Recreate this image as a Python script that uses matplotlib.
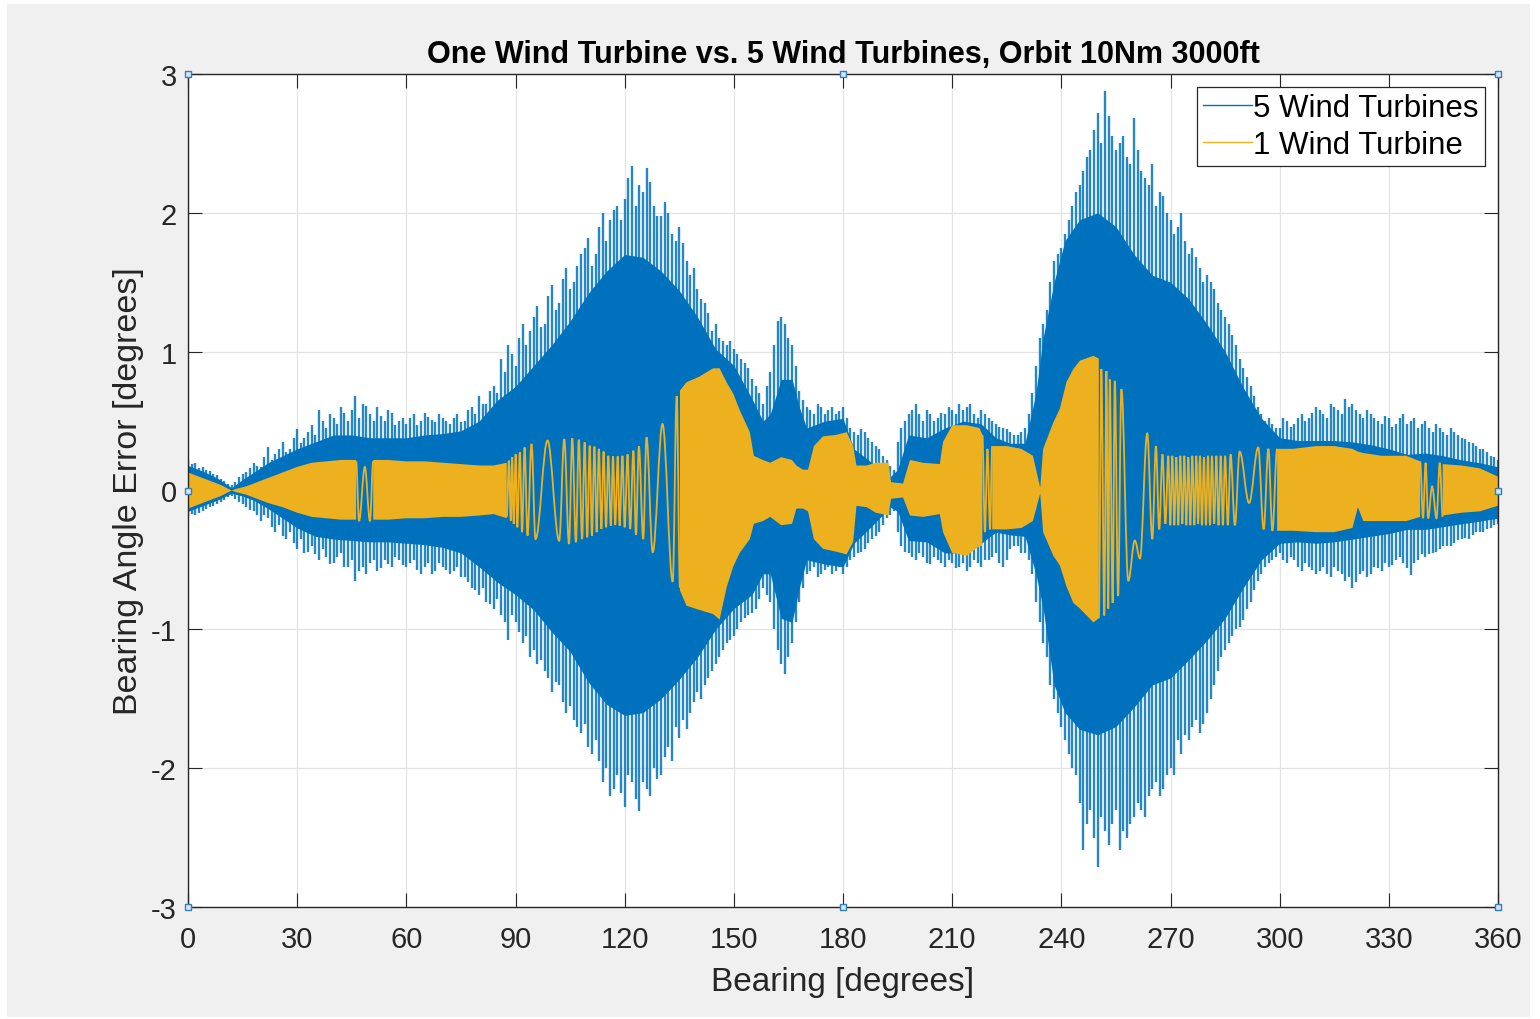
import numpy as np
import matplotlib
matplotlib.use("Agg")
import matplotlib.pyplot as plt
from matplotlib.path import Path
from matplotlib.patches import PathPatch, Rectangle
from matplotlib.lines import Line2D

plt.rcParams['font.family'] = ['Liberation Sans', 'DejaVu Sans']
plt.rcParams['axes.unicode_minus'] = False

# ---------------- data ----------------
title_text = "One Wind Turbine vs. 5 Wind Turbines, Orbit 10Nm 3000ft"
x_label = "Bearing [degrees]"
y_label = "Bearing Angle Error [degrees]"
series_labels = ["5 Wind Turbines", "1 Wind Turbine"]
x_ticks = [0, 30, 60, 90, 120, 150, 180, 210, 240, 270, 300, 330, 360]
y_ticks = [-3, -2, -1, 0, 1, 2, 3]

# 5 turbines: solid core envelope
blue_core_deg = [0, 4, 8, 12, 15, 18, 22, 26, 30, 35, 40, 45, 50, 55, 60, 65, 70, 75, 80, 85,
                 90, 95, 100, 105, 110, 115, 120, 125, 130, 135, 140, 145, 150, 155, 158, 160,
                 163, 166, 168, 170, 175, 180, 183, 187, 190, 193, 195, 198, 203, 208, 213, 218,
                 222, 226, 230, 233, 235, 238, 241, 245, 250, 255, 260, 265, 270, 275, 280, 285,
                 290, 295, 300, 305, 310, 315, 320, 325, 330, 335, 340, 345, 350, 355, 360]
blue_core_hi = [0.18, 0.14, 0.09, 0.02, 0.08, 0.13, 0.20, 0.25, 0.30, 0.35, 0.40, 0.40, 0.38, 0.38,
                0.38, 0.40, 0.41, 0.43, 0.50, 0.65, 0.75, 0.90, 1.05, 1.22, 1.42, 1.58, 1.70, 1.68,
                1.58, 1.44, 1.25, 1.02, 0.90, 0.66, 0.50, 0.55, 0.80, 0.80, 0.60, 0.45, 0.50, 0.52,
                0.30, 0.22, 0.15, 0.10, 0.15, 0.40, 0.38, 0.45, 0.50, 0.48, 0.38, 0.34, 0.34, 0.70,
                1.10, 1.50, 1.80, 1.95, 2.00, 1.90, 1.70, 1.55, 1.50, 1.38, 1.20, 1.00, 0.74, 0.52,
                0.38, 0.36, 0.36, 0.36, 0.35, 0.33, 0.30, 0.26, 0.27, 0.25, 0.22, 0.20, 0.17]
blue_core_lo = [-0.15, -0.11, -0.07, -0.02, -0.04, -0.07, -0.13, -0.20, -0.27, -0.33, -0.35, -0.36,
                -0.37, -0.37, -0.38, -0.39, -0.41, -0.45, -0.55, -0.66, -0.75, -0.86, -1.02, -1.16,
                -1.38, -1.54, -1.62, -1.60, -1.50, -1.36, -1.20, -1.00, -0.85, -0.75, -0.60, -0.60,
                -0.92, -0.95, -0.70, -0.50, -0.53, -0.55, -0.38, -0.28, -0.20, -0.12, -0.15, -0.36,
                -0.37, -0.45, -0.45, -0.38, -0.30, -0.32, -0.33, -0.60, -0.85, -1.40, -1.60, -1.72,
                -1.76, -1.70, -1.56, -1.40, -1.35, -1.22, -1.08, -0.92, -0.70, -0.50, -0.38, -0.37,
                -0.38, -0.37, -0.35, -0.33, -0.31, -0.28, -0.28, -0.26, -0.24, -0.22, -0.20]

# 5 turbines: spike peaks at even degrees
blue_spike_deg = list(range(0, 361, 2))
blue_spike_hi = [
    0.22, 0.20, 0.17, 0.14, 0.11, 0.07, 0.04, 0.10, 0.13, 0.20,
    0.17, 0.31, 0.26, 0.35, 0.30, 0.44, 0.38, 0.47, 0.58, 0.45,
    0.52, 0.60, 0.50, 0.68, 0.62, 0.55, 0.60, 0.50, 0.56, 0.50,
    0.48, 0.55, 0.50, 0.53, 0.49, 0.52, 0.48, 0.55, 0.50, 0.60,
    0.68, 0.62, 0.75, 0.95, 1.05, 0.90, 1.20, 1.15, 1.33, 1.20,
    1.48, 1.35, 1.60, 1.50, 1.70, 1.82, 1.70, 2.00, 1.95, 2.05,
    2.10, 2.34, 2.20, 2.32, 2.05, 1.98, 2.00, 1.80, 1.78, 1.55,
    1.45, 1.35, 1.15, 1.10, 1.05, 1.02, 0.95, 0.88, 0.75, 0.62,
    0.85, 1.22, 1.20, 1.05, 0.72, 0.60, 0.55, 0.60, 0.58, 0.55,
    0.60, 0.45, 0.40, 0.42, 0.35, 0.30, 0.22, 0.15, 0.45, 0.55,
    0.62, 0.50, 0.55, 0.52, 0.55, 0.58, 0.62, 0.60, 0.55, 0.58,
    0.52, 0.48, 0.45, 0.42, 0.40, 0.45, 0.70, 1.10, 1.30, 1.65,
    1.75, 1.95, 2.15, 2.30, 2.45, 2.72, 2.88, 2.55, 2.50, 2.40,
    2.68, 2.30, 2.20, 2.05, 2.12, 1.95, 1.90, 1.80, 1.75, 1.60,
    1.55, 1.45, 1.30, 1.20, 1.05, 0.88, 0.75, 0.60, 0.50, 0.48,
    0.45, 0.50, 0.48, 0.55, 0.52, 0.60, 0.55, 0.62, 0.58, 0.66,
    0.62, 0.55, 0.58, 0.52, 0.48, 0.52, 0.48, 0.55, 0.50, 0.45,
    0.50, 0.42, 0.45, 0.40, 0.42, 0.38, 0.35, 0.32, 0.30, 0.25,
    0.22]
blue_spike_lo = [
    -0.20, -0.18, -0.15, -0.12, -0.10, -0.07, -0.04, -0.08, -0.12, -0.15,
    -0.22, -0.20, -0.30, -0.33, -0.30, -0.42, -0.45, -0.40, -0.50, -0.48,
    -0.52, -0.45, -0.55, -0.65, -0.55, -0.52, -0.58, -0.50, -0.55, -0.50,
    -0.55, -0.50, -0.60, -0.52, -0.58, -0.55, -0.60, -0.55, -0.62, -0.70,
    -0.75, -0.80, -0.85, -0.90, -1.08, -0.95, -1.10, -1.20, -1.25, -1.30,
    -1.45, -1.40, -1.60, -1.65, -1.75, -1.85, -1.80, -2.10, -2.20, -2.05,
    -2.28, -2.10, -2.31, -2.15, -2.00, -2.05, -1.85, -1.70, -1.65, -1.60,
    -1.45, -1.40, -1.30, -1.20, -1.10, -1.05, -0.95, -0.90, -0.85, -0.70,
    -0.80, -1.15, -1.32, -1.10, -0.80, -0.60, -0.55, -0.60, -0.55, -0.58,
    -0.60, -0.50, -0.45, -0.42, -0.35, -0.30, -0.20, -0.15, -0.40, -0.45,
    -0.50, -0.48, -0.53, -0.50, -0.55, -0.52, -0.55, -0.58, -0.50, -0.55,
    -0.50, -0.45, -0.55, -0.42, -0.40, -0.45, -0.60, -0.95, -1.20, -1.50,
    -1.70, -1.90, -2.05, -2.59, -2.30, -2.71, -2.45, -2.40, -2.59, -2.50,
    -2.35, -2.30, -2.20, -2.10, -2.15, -2.00, -1.80, -1.76, -1.70, -1.75,
    -1.60, -1.40, -1.20, -1.10, -1.00, -0.93, -0.80, -0.65, -0.55, -0.50,
    -0.45, -0.52, -0.50, -0.58, -0.55, -0.60, -0.55, -0.62, -0.58, -0.65,
    -0.70, -0.60, -0.62, -0.55, -0.58, -0.55, -0.50, -0.52, -0.61, -0.50,
    -0.48, -0.45, -0.42, -0.40, -0.38, -0.35, -0.35, -0.30, -0.30, -0.27,
    -0.24]

# 5 turbines: spike peaks at odd degrees
blue_spike_odd_deg = list(range(1, 360, 2))
blue_spike_odd_hi = [
    0.19, 0.16, 0.15, 0.12, 0.08, 0.05, 0.06, 0.12, 0.16, 0.18,
    0.24, 0.22, 0.30, 0.28, 0.38, 0.34, 0.42, 0.40, 0.50, 0.55,
    0.48, 0.56, 0.58, 0.52, 0.61, 0.50, 0.54, 0.58, 0.47, 0.52,
    0.52, 0.47, 0.56, 0.51, 0.55, 0.50, 0.52, 0.49, 0.58, 0.55,
    0.62, 0.72, 0.70, 0.85, 0.98, 1.10, 1.05, 1.25, 1.18, 1.40,
    1.30, 1.52, 1.45, 1.62, 1.75, 1.62, 1.90, 1.80, 2.02, 1.95,
    2.25, 2.05, 2.15, 2.22, 1.98, 2.08, 1.85, 1.90, 1.65, 1.60,
    1.38, 1.28, 1.20, 1.08, 1.08, 0.98, 0.92, 0.80, 0.70, 0.75,
    1.05, 1.25, 1.10, 0.90, 0.65, 0.58, 0.62, 0.55, 0.60, 0.57,
    0.52, 0.42, 0.44, 0.38, 0.32, 0.25, 0.18, 0.35, 0.50, 0.58,
    0.55, 0.58, 0.50, 0.56, 0.60, 0.55, 0.58, 0.62, 0.52, 0.55,
    0.50, 0.46, 0.44, 0.40, 0.42, 0.55, 0.90, 1.20, 1.50, 1.70,
    1.85, 2.05, 2.20, 2.40, 2.60, 2.50, 2.70, 2.45, 2.55, 2.35,
    2.45, 2.25, 2.35, 2.15, 2.00, 1.85, 2.00, 1.70, 1.68, 1.50,
    1.50, 1.35, 1.25, 1.12, 0.95, 0.82, 0.68, 0.55, 0.52, 0.45,
    0.52, 0.46, 0.52, 0.50, 0.56, 0.58, 0.52, 0.60, 0.55, 0.60,
    0.58, 0.52, 0.55, 0.50, 0.54, 0.46, 0.52, 0.48, 0.52, 0.48,
    0.45, 0.48, 0.42, 0.45, 0.40, 0.37, 0.34, 0.30, 0.28, 0.24]
blue_spike_odd_lo = [
    -0.17, -0.16, -0.13, -0.11, -0.08, -0.05, -0.06, -0.10, -0.14, -0.18,
    -0.18, -0.26, -0.25, -0.35, -0.38, -0.35, -0.44, -0.46, -0.42, -0.53,
    -0.48, -0.55, -0.50, -0.58, -0.60, -0.50, -0.56, -0.53, -0.48, -0.54,
    -0.52, -0.57, -0.55, -0.60, -0.52, -0.57, -0.58, -0.62, -0.66, -0.72,
    -0.70, -0.82, -0.78, -0.95, -0.90, -1.02, -1.05, -1.15, -1.22, -1.35,
    -1.38, -1.52, -1.55, -1.70, -1.68, -1.90, -1.95, -2.00, -2.15, -2.18,
    -2.05, -2.22, -2.10, -2.20, -2.08, -1.92, -1.95, -1.78, -1.72, -1.52,
    -1.50, -1.35, -1.25, -1.15, -1.08, -1.00, -0.92, -0.88, -0.78, -0.75,
    -1.00, -1.25, -1.20, -0.95, -0.70, -0.58, -0.62, -0.57, -0.60, -0.55,
    -0.55, -0.48, -0.44, -0.38, -0.33, -0.25, -0.18, -0.30, -0.44, -0.48,
    -0.45, -0.52, -0.48, -0.52, -0.50, -0.56, -0.52, -0.55, -0.52, -0.50,
    -0.48, -0.52, -0.50, -0.40, -0.45, -0.50, -0.80, -1.10, -1.40, -1.60,
    -1.80, -2.00, -2.25, -2.40, -2.50, -2.35, -2.55, -2.30, -2.45, -2.40,
    -2.25, -2.35, -2.15, -2.20, -2.05, -2.05, -1.90, -1.80, -1.65, -1.68,
    -1.50, -1.30, -1.15, -1.05, -0.98, -0.85, -0.72, -0.60, -0.52, -0.48,
    -0.50, -0.48, -0.55, -0.52, -0.57, -0.58, -0.60, -0.55, -0.60, -0.62,
    -0.66, -0.58, -0.60, -0.56, -0.52, -0.54, -0.48, -0.56, -0.52, -0.46,
    -0.46, -0.44, -0.40, -0.40, -0.36, -0.34, -0.32, -0.30, -0.28, -0.25]

# 1 turbine: dense envelope (NaN = resolved individual oscillations)
nan = float('nan')
yel_deg = [0, 3, 6, 9, 12, 13, 16, 18, 22, 26, 30, 34, 38, 42, 46.2, 48.5, 50.9, 55, 60, 65,
           70, 75, 80, 84, 87.6, 110, 135.2, 137, 140.5, 144.3, 146.1, 148, 149.8, 151.6, 154.4,
           155.5, 158, 160, 163, 166, 167.2, 169, 170.4, 172, 174.5, 178, 181, 182.8, 183.7,
           186.5, 189, 192.5, 193.2, 196.5, 198.4, 202, 206.6, 207.5, 210, 214, 217.5, 218.3,
           219.5, 221.0, 225, 229, 232.2, 234.2, 235, 237.8, 239.6, 241.4, 243.3, 245.1, 248.8,
           250.3, 275, 299.3, 303.7, 310, 315, 320, 321.5, 323, 328, 334.8, 338.6, 342, 344.8,
           350, 355, 360]
yel_hi = [0.13, 0.10, 0.07, 0.04, 0.0, 0.01, 0.03, 0.05, 0.09, 0.13, 0.17, 0.20, 0.21, 0.22,
          0.22, nan, 0.22, 0.22, 0.21, 0.21, 0.20, 0.19, 0.18, 0.18, 0.20, nan, 0.72, 0.78, 0.82,
          0.88, 0.88, 0.78, 0.70, 0.58, 0.42, 0.25, 0.22, 0.20, 0.24, 0.22, 0.18, 0.15, 0.15,
          0.32, 0.39, 0.40, 0.42, 0.32, 0.18, 0.18, 0.20, 0.20, 0.06, 0.05, 0.22, 0.20, 0.19,
          0.35, 0.47, 0.47, 0.45, 0.40, nan, 0.32, 0.32, 0.30, 0.25, 0.02, 0.30, 0.49, 0.59,
          0.78, 0.875, 0.935, 0.97, 0.95, nan, 0.30, 0.30, 0.32, 0.32, 0.30, 0.28, 0.27, 0.25,
          0.25, 0.21, nan, 0.19, 0.18, 0.16, 0.10]
yel_lo = [-0.13, -0.10, -0.07, -0.04, 0.0, -0.01, -0.03, -0.05, -0.09, -0.12, -0.16, -0.19,
          -0.20, -0.21, -0.21, nan, -0.21, -0.21, -0.20, -0.20, -0.19, -0.19, -0.18, -0.17,
          -0.20, nan, -0.72, -0.83, -0.86, -0.89, -0.93, -0.70, -0.55, -0.45, -0.35, -0.24,
          -0.22, -0.19, -0.25, -0.24, -0.13, -0.13, -0.15, -0.35, -0.42, -0.44, -0.46, -0.37,
          -0.11, -0.12, -0.16, -0.18, -0.06, -0.05, -0.18, -0.19, -0.17, -0.30, -0.45, -0.47,
          -0.40, -0.40, nan, -0.28, -0.28, -0.27, -0.22, -0.02, -0.30, -0.47, -0.54, -0.69,
          -0.81, -0.85, -0.95, -0.92, nan, -0.29, -0.29, -0.30, -0.30, -0.27, -0.12, -0.22,
          -0.22, -0.22, -0.19, nan, -0.18, -0.16, -0.15, -0.11]

# 1 turbine: resolved oscillation peaks
yel_wave_a_deg = [46.2, 47.0, 48.6, 50.0, 50.9]
yel_wave_a_val = [0.21, -0.22, 0.17, -0.22, 0.21]

yel_wave_b_deg = [87.6, 88.2, 88.7, 89.1, 89.5, 90.05, 90.5, 91.2, 91.8, 92.5, 93.3, 94.4, 95.5,
                  98.8, 102.0, 103.4, 104.7, 105.6, 106.6, 107.4, 108.3, 109.0, 109.7, 110.4,
                  111.0, 111.7, 112.3, 112.9, 113.6, 114.2, 114.9, 115.5, 116.2, 116.8, 117.4,
                  118.1, 118.6, 119.4, 120.0, 120.8, 121.5, 122.4, 123.1, 123.9, 125.1, 126.0,
                  127.7, 130.4, 133.2, 134.3, 135.2]
yel_wave_b_val = [-0.19, 0.215, -0.217, 0.24, -0.24, 0.26, -0.265, 0.275, -0.30, 0.31, -0.325,
                  0.335, -0.35, 0.36, -0.362, 0.37, -0.385, 0.376, -0.373, 0.366, -0.35, 0.347,
                  -0.337, 0.323, -0.325, 0.316, -0.30, 0.30, -0.277, 0.28, -0.265, 0.25, -0.253,
                  0.246, -0.249, 0.246, -0.253, 0.25, -0.265, 0.26, -0.277, 0.287, -0.32, 0.318,
                  -0.35, 0.383, -0.445, 0.479, -0.657, 0.68, -0.70]

yel_wave_c_deg = [218.3, 219.0, 219.7, 220.4, 221.0]
yel_wave_c_val = [0.40, -0.30, 0.30, -0.28, 0.32]

yel_wave_d_deg = [250.3, 251.0, 251.8, 252.4, 252.9, 253.3, 254.1, 254.7, 255.6, 256.5, 258.4,
                  260.2, 261.6, 263.6, 265.0, 266.0, 266.9, 267.8, 268.6, 269.4, 269.95, 270.5,
                  271.05, 271.6, 272.15, 272.7, 273.25, 273.8, 274.35, 274.9, 275.45, 276.0,
                  276.55, 277.1, 277.6, 278.1, 278.65, 279.2, 279.75, 280.3, 280.85, 281.4,
                  282.0, 282.6, 283.2, 283.8, 284.4, 285.0, 285.75, 286.5, 287.7, 289.0, 291.6,
                  294.1, 295.6, 296.9, 298.0, 299.3]
yel_wave_d_val = [-0.92, 0.875, -0.90, 0.86, -0.85, 0.80, -0.81, 0.79, -0.76, 0.73, -0.65,
                  -0.36, -0.49, 0.41, -0.35, 0.32, -0.28, 0.26, -0.24, 0.25, -0.25, 0.25, -0.25,
                  0.24, -0.25, 0.25, -0.24, 0.25, -0.25, 0.24, -0.25, 0.25, -0.25, 0.25, -0.24,
                  0.25, -0.25, 0.24, -0.25, 0.25, -0.25, 0.25, -0.24, 0.25, -0.25, 0.25, -0.25,
                  0.25, -0.25, 0.26, -0.25, 0.28, -0.09, 0.31, -0.28, 0.30, -0.29, 0.30]

yel_wave_e_deg = [338.6, 339.4, 340.1, 340.8, 341.9, 343.1, 344.0, 344.8]
yel_wave_e_val = [0.21, -0.20, 0.20, -0.20, 0.03, -0.20, 0.20, -0.19]

# ---------------- style ----------------
BLUE = '#0072BD'
YELLOW = '#EDB120'
TXT = '#262626'


def wave_patch(xs, ys, **kw):
    """Smooth curve through successive oscillation peaks (horizontal tangent at each peak)."""
    verts = [(xs[0], ys[0])]
    codes = [Path.MOVETO]
    for i in range(len(xs) - 1):
        dx = xs[i + 1] - xs[i]
        verts += [(xs[i] + 0.364 * dx, ys[i]), (xs[i + 1] - 0.364 * dx, ys[i + 1]),
                  (xs[i + 1], ys[i + 1])]
        codes += [Path.CURVE4] * 3
    return PathPatch(Path(verts, codes), fill=False, **kw)


fig = plt.figure(figsize=(15.4, 10.2), dpi=100, facecolor='white')
bg = Rectangle((7 / 1540, 2 / 1020), 1523 / 1540, 1013 / 1020,
               transform=fig.transFigure, facecolor='#f0f0f0', edgecolor='none', zorder=-10)
fig.add_artist(bg)
ax = fig.add_axes([188 / 1540, 1 - 908 / 1020, 1310 / 1540, 833 / 1020])
ax.set_zorder(1)
ax.set_facecolor('white')

# 5 turbines
ax.fill_between(blue_core_deg, blue_core_lo, blue_core_hi, color=BLUE, lw=0, zorder=2)
for sd, shi, slo in [(blue_spike_deg, blue_spike_hi, blue_spike_lo),
                     (blue_spike_odd_deg, blue_spike_odd_hi, blue_spike_odd_lo)]:
    ax.vlines(sd, 0, shi, color=BLUE, lw=1.7, alpha=0.85, zorder=2)
    ax.vlines(sd, 0, slo, color=BLUE, lw=1.7, alpha=0.85, zorder=2)

# 1 turbine
ax.fill_between(yel_deg, yel_lo, yel_hi, color=YELLOW, lw=0, zorder=3)
for wd, wv in [(yel_wave_a_deg, yel_wave_a_val), (yel_wave_b_deg, yel_wave_b_val),
               (yel_wave_c_deg, yel_wave_c_val), (yel_wave_d_deg, yel_wave_d_val),
               (yel_wave_e_deg, yel_wave_e_val)]:
    ax.add_patch(wave_patch(wd, wv, edgecolor=YELLOW, lw=1.3, zorder=3))

ax.set_xlim(0, 360)
ax.set_ylim(-3, 3)
ax.set_xticks(x_ticks)
ax.set_yticks(y_ticks)
ax.grid(True, color='#e3e3e3', lw=0.9, zorder=0)
ax.set_axisbelow(True)
ax.tick_params(direction='in', length=10, width=0.8, top=True, right=True,
               labelsize=21, colors=TXT)
ax.tick_params(axis='x', pad=13)
ax.tick_params(axis='y', pad=8)
for s in ax.spines.values():
    s.set_color(TXT)
    s.set_linewidth(1.0)
    s.set_zorder(5)

ax.set_title(title_text, fontsize=22, fontweight='bold', color='black', pad=9)
ax.set_xlabel(x_label, fontsize=24, color=TXT, labelpad=9)
ax.set_ylabel(y_label, fontsize=24.5, color=TXT, labelpad=5)

handles = [Line2D([], [], color=BLUE, lw=1.0), Line2D([], [], color=YELLOW, lw=1.0)]
leg = ax.legend(handles, series_labels, loc='upper right', fontsize=22.5, frameon=True,
                fancybox=False, edgecolor=TXT, framealpha=1, borderpad=0.2,
                labelspacing=0.2, handlelength=1.55, handletextpad=0.05, borderaxespad=0.42)
leg.get_frame().set_linewidth(0.9)
leg.set_zorder(20)

# edit-mode selection handles
ax.plot([0, 0.5, 1, 0, 1, 0, 0.5, 1], [1, 1, 1, 0.5, 0.5, 0, 0, 0], transform=ax.transAxes,
        ls='none', marker='s', ms=5, mfc='#d6e8f7', mec='#2f7fc1', mew=1.0,
        clip_on=False, zorder=30)

fig.savefig('out.png', dpi=100, facecolor=fig.get_facecolor())
